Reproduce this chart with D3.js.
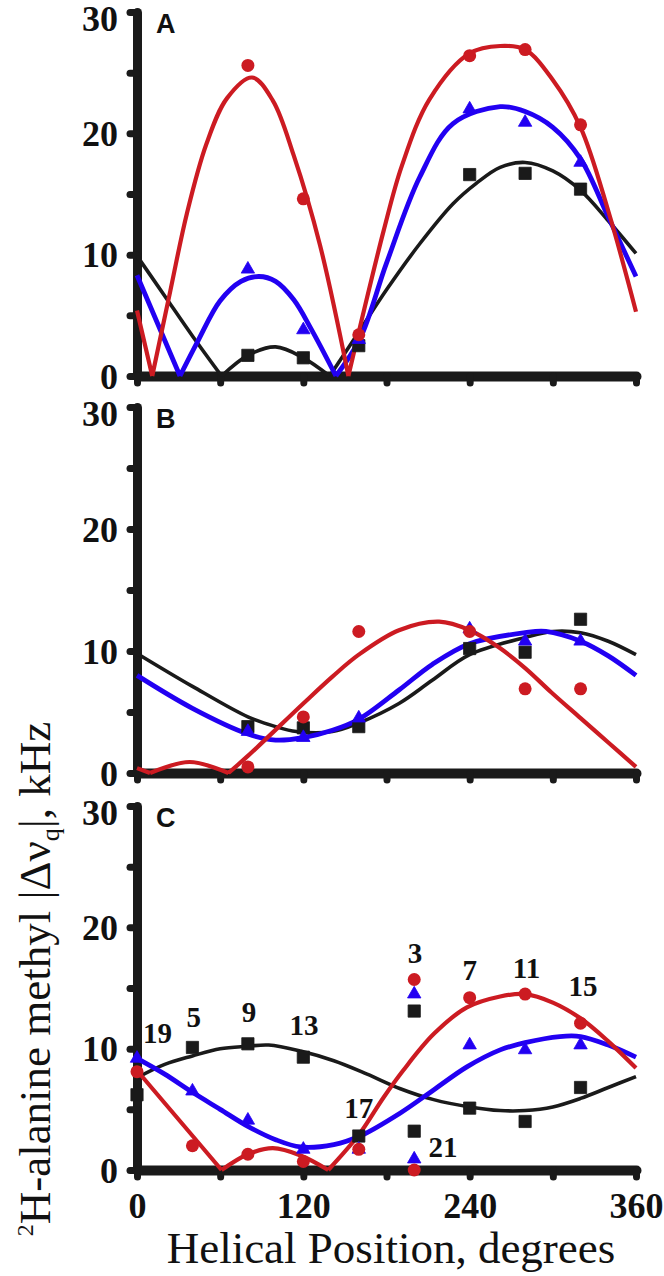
<!DOCTYPE html>
<html>
<head>
<meta charset="utf-8">
<script src="https://cdn.jsdelivr.net/npm/d3@7"></script>
<style>
    body { margin: 0; background: #fff; }
    svg { display: block; }
</style>
</head>
<body>
<div id="chart"></div>
<script>
// helical positions of the labelled alanines
var posAB = [80, 120, 160, 240, 280, 320];
var posC = [0, 40, 80, 120, 160, 200, 200, 240, 280, 320];

// measured |delta nu q| (kHz), panel A
var aRed = [25.6, 14.6, 3.4, 26.4, 26.9, 20.7];
var aBlue = [8.8, 3.8, 3.0, 22.0, 20.9, 17.6];
var aBlack = [1.7, 1.5, 2.5, 16.6, 16.7, 15.4];
// panel B
var bRed = [0.5, 4.6, 11.6, 11.6, 6.9, 6.9];
var bBlue = [3.4, 2.9, 4.5, 11.8, 10.8, 10.8];
var bBlack = [3.8, 3.7, 3.8, 10.2, 9.9, 12.6];
// panel C
var cRed = [8.1, 2.0, 1.3, 0.7, 1.7, 15.7, 0.0, 14.2, 14.5, 12.1];
var cBlue = [9.2, 6.5, 4.1, 1.7, 1.7, 14.5, 0.9, 10.3, 9.9, 10.3];
var cBlack = [6.2, 10.1, 10.4, 9.3, 2.8, 13.1, 3.2, 5.1, 4.0, 6.8];

// fitted curves, [position, kHz]
var aRedFit = [[0, 5.4], [11, 0], [24, 7.0], [36, 13.4], [50, 19.1], [65, 22.9], [83, 24.6], [98, 22.7], [113, 18.2], [132, 10.8], [152.5, 0], [161, 4.1], [178, 12.0], [191, 17.3], [211, 22.8], [240, 26.6], [262, 27.2], [280, 26.9], [300, 24.4], [320, 20.5], [340, 13.6], [360, 5.3]];
var aBlueFit = [[0, 8.3], [31, 0], [44, 2.9], [60, 6.2], [75, 7.8], [88, 8.2], [100, 7.8], [113, 6.3], [126, 3.8], [143.5, 0], [161, 3.1], [180, 9.3], [204, 16.4], [228, 20.8], [262, 22.2], [280, 21.8], [300, 20.5], [320, 17.9], [340, 13.1], [360, 8.2]];
var aBlackFit = [[0, 9.9], [20, 6.6], [40, 3.3], [61, 0], [80, 1.7], [100, 2.4], [120, 1.5], [139, 0], [161, 3.8], [180, 7.1], [204, 10.9], [228, 14.2], [245, 15.9], [262, 17.2], [280, 17.6], [300, 16.9], [320, 15.3], [340, 12.8], [360, 10.1]];

var bRedFit = [[0, 0.4], [9.4, 0], [38, 0.9], [66, 0], [80, 1.4], [120, 5.7], [141, 7.9], [160, 9.7], [189, 11.7], [218, 12.4], [240, 11.7], [261, 10.3], [280, 8.6], [299, 6.6], [320, 4.5], [340, 2.5], [360, 0.5]];
var bBlueFit = [[0, 8.0], [40, 5.3], [80, 3.2], [100, 2.7], [120, 2.9], [141, 3.5], [160, 4.4], [189, 6.8], [213, 8.9], [240, 10.6], [280, 11.5], [295, 11.6], [320, 10.8], [340, 9.6], [360, 8.0]];
var bBlackFit = [[0, 9.8], [40, 7.1], [80, 4.6], [100, 3.8], [115, 3.4], [141, 3.4], [160, 4.1], [189, 5.7], [213, 7.6], [240, 9.7], [280, 11.1], [300, 11.6], [320, 11.5], [340, 10.8], [360, 9.7]];

var cRedFit = [[0, 8.2], [61, 0], [80, 1.3], [98, 1.8], [118, 1.2], [138, 0], [160, 2.9], [178, 6.0], [192, 8.2], [214, 11.2], [238, 13.4], [262, 14.3], [280, 14.5], [300, 13.8], [320, 12.5], [340, 10.6], [360, 8.4]];
var cBlueFit = [[0, 9.2], [20, 7.9], [40, 6.4], [60, 5.0], [80, 3.6], [100, 2.5], [118, 1.9], [142, 2.1], [161, 2.8], [190, 4.7], [214, 6.6], [238, 8.5], [262, 9.9], [280, 10.5], [305, 11.0], [320, 11.0], [340, 10.3], [360, 9.3]];
var cBlackFit = [[0, 7.6], [20, 8.7], [40, 9.4], [60, 10.0], [80, 10.2], [95, 10.3], [118, 9.8], [142, 9.0], [166, 7.9], [190, 6.7], [214, 5.8], [240, 5.2], [262, 4.9], [280, 4.9], [300, 5.2], [320, 5.9], [340, 6.8], [360, 7.7]];

// residue numbers in panel C and where they sit (position, kHz)
var resC = ["19", "5", "9", "13", "17", "3", "7", "11", "15", "21"];
var resPosC = [14.8, 41, 80.8, 120.5, 160, 200.6, 240, 281, 321.8, 220.8];
var resValC = [10.5, 11.8, 12.2, 11.1, 4.3, 17.1, 15.7, 15.8, 14.3, 1.1];

var xTicks = [0, 60, 120, 180, 240, 300, 360];
var yTicks = [0, 5, 10, 15, 20, 25, 30];

(function() {
    var width = 664, height = 1276;
    var red = "#cc1b22", blue = "#2200f2", black = "#1a1a1a";
    var serif = "'Liberation Serif', 'Times New Roman', serif";

    var svg = d3.select("#chart")
        .append("svg")
        .attr("width", width)
        .attr("height", height);

    var x = d3.scaleLinear().domain([0, 360]).range([137, 636]);

    var panels = [
        {name: "A", y0: 376, y30: 12, pos: posAB,
            series: [[aBlack, aBlackFit, black], [aBlue, aBlueFit, blue], [aRed, aRedFit, red]]},
        {name: "B", y0: 773, y30: 407,  pos: posAB,
            series: [[bBlack, bBlackFit, black], [bBlue, bBlueFit, blue], [bRed, bRedFit, red]]},
        {name: "C", y0: 1170, y30: 806, pos: posC,
            series: [[cBlack, cBlackFit, black], [cBlue, cBlueFit, blue], [cRed, cRedFit, red]]}
    ];

    // split a fit at its interior zeros so the |...| cusps stay sharp
    function segments(pts) {
        var segs = [], cur = [];
        pts.forEach(function(p, i) {
            cur.push(p);
            if (p[1] === 0 && i > 0 && i < pts.length - 1) {
                segs.push(cur);
                cur = [p];
            }
        });
        segs.push(cur);
        return segs;
    }

    var symbols = {};
    symbols[black] = d3.symbol().type(d3.symbolSquare).size(150);
    symbols[blue] = d3.symbol().type(d3.symbolTriangle).size(78);

    panels.forEach(function(p, pi) {
        var y = d3.scaleLinear().domain([0, 30]).range([p.y0, p.y30]);
        var g = svg.append("g").attr("class", "panel");
        var last = pi === panels.length - 1;

        var yAxis = d3.axisLeft(y)
            .tickValues(yTicks)
            .tickSize(7)
            .tickSizeOuter(0)
            .tickPadding(12)
            .tickFormat(function(d) { return d % 10 === 0 ? d : ""; });
        var xAxis = d3.axisBottom(x)
            .tickValues(xTicks)
            .tickSize(7)
            .tickSizeOuter(0)
            .tickPadding(15)
            .tickFormat(function(d) { return last && d % 120 === 0 ? d : ""; });

        var ya = g.append("g")
            .attr("transform", "translate(" + x(0) + ",0)")
            .call(yAxis);
        var xa = g.append("g")
            .attr("transform", "translate(0," + y(0) + ")")
            .call(xAxis);

        [ya, xa].forEach(function(a) {
            a.attr("font-family", serif)
                .attr("font-size", 36)
                .attr("font-weight", "bold");
            a.select(".domain")
                .attr("stroke", black)
                .attr("stroke-linecap", "round");
            a.selectAll(".tick line")
                .attr("stroke", black)
                .attr("stroke-width", 7)
                .attr("stroke-linecap", "round");
            a.selectAll(".tick text")
                .attr("fill", "#111");
        });
        ya.select(".domain").attr("stroke-width", 9);
        xa.select(".domain").attr("stroke-width", 10);
        // top label sits a little low in the original, clear of the edge
        ya.selectAll(".tick text")
            .attr("dy", function(d) { return d === 30 ? "0.5em" : "0.34em"; });

        g.append("text")
            .attr("x", 156)
            .attr("y", p.y30 + 20.5)
            .style("font-family", "'Liberation Sans', Arial, sans-serif")
            .style("font-weight", "bold")
            .style("font-size", "27px")
            .attr("fill", "#111")
            .text(p.name);

        var line = d3.line()
            .x(function(d) { return x(d[0]); })
            .y(function(d) { return y(d[1]); })
            .curve(d3.curveCatmullRom.alpha(0.5));

        p.series.forEach(function(s) {
            g.append("path")
                .attr("d", segments(s[1]).map(function(seg) { return line(seg); }).join(""))
                .attr("fill", "none")
                .attr("stroke", s[2])
                .attr("stroke-width", s[2] === blue ? 4.8 : s[2] === red ? 4.2 : 3.6)
                .attr("stroke-linejoin", "round");
        });

        p.series.forEach(function(s) {
            var pts = s[0].map(function(v, i) { return [p.pos[i], v]; });
            if (s[2] === red) {
                g.selectAll(null)
                    .data(pts)
                    .enter()
                    .append("circle")
                    .attr("cx", function(d) { return x(d[0]); })
                    .attr("cy", function(d) { return y(d[1]); })
                    .attr("r", 6.5)
                    .attr("fill", red);
            } else {
                g.selectAll(null)
                    .data(pts)
                    .enter()
                    .append("path")
                    .attr("d", symbols[s[2]])
                    .attr("transform", function(d) {
                        return "translate(" + x(d[0]) + "," + y(d[1]) + ")";
                    })
                    .attr("fill", s[2])
                    .attr("stroke", s[2])
                    .attr("stroke-width", 0.8)
                    .attr("stroke-linejoin", "round");
            }
        });

        if (last) {
            g.selectAll(".res")
                .data(resC)
                .enter()
                .append("text")
                .attr("class", "res")
                .attr("x", function(d, i) { return x(resPosC[i]); })
                .attr("y", function(d, i) { return y(resValC[i]); })
                .attr("text-anchor", "middle")
                .style("font-family", serif)
                .style("font-weight", "bold")
                .style("font-size", "29px")
                .attr("fill", "#111")
                .text(function(d) { return d; });
        }
    });

    // axis titles
    svg.append("text")
        .attr("x", 391)
        .attr("y", 1263)
        .attr("text-anchor", "middle")
        .style("font-family", serif)
        .style("font-size", "45px")
        .attr("fill", "#111")
        .text("Helical Position, degrees");

    var yt = svg.append("text")
        .attr("transform", "translate(50,979) rotate(-90)")
        .attr("text-anchor", "middle")
        .style("font-family", serif)
        .style("font-size", "45px")
        .attr("fill", "#111");
    yt.append("tspan").attr("dy", -17).style("font-size", "24px").text("2");
    yt.append("tspan").attr("dy", 17).text("H-alanine methyl |\u0394\u03bd");
    yt.append("tspan").attr("dy", 9).style("font-size", "26px").text("q");
    yt.append("tspan").attr("dy", -9).text("|, kHz");
})();
</script>
</body>
</html>
